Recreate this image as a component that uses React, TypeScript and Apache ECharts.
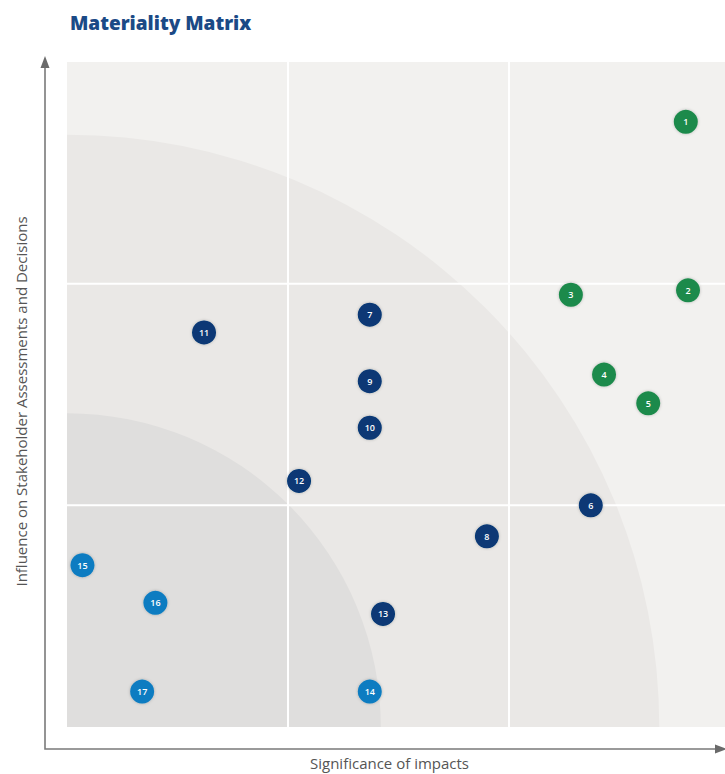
import React, { useEffect, useRef } from "react";
import * as echarts from "echarts";

const greenIds = ["1", "2", "3", "4", "5"];
const greenX = [2.8, 2.81, 2.28, 2.43, 2.63];
const greenY = [2.73, 1.97, 1.95, 1.59, 1.46];

const navyIds = ["6", "7", "8", "9", "10", "11", "12", "13"];
const navyX = [2.37, 1.37, 1.9, 1.37, 1.37, 0.62, 1.05, 1.43];
const navyY = [1.0, 1.86, 0.86, 1.56, 1.35, 1.78, 1.11, 0.51];

const blueIds = ["14", "15", "16", "17"];
const blueX = [1.37, 0.07, 0.4, 0.34];
const blueY = [0.16, 0.73, 0.56, 0.16];

const zoneRadii = [2.68, 1.42];
const zoneColors = ["#eae8e6", "#dfdedd"];
const dividers = [1, 2];
const axisMin = 0;
const axisMax = 3;

const build = (xs: number[], ys: number[], ids: string[]) =>
  xs.map((x, i) => ({ value: [x, ys[i]], name: ids[i] }));

export default function App() {
  const ref = useRef<HTMLDivElement>(null);
  useEffect(() => {
    document.body.style.margin = "0";
    const chart = echarts.init(ref.current!, undefined, { renderer: "svg" });
    const font = "'Open Sans', 'Noto Sans', sans-serif";
    const markerSeries = (name: string, color: string, data: any[]) => ({
      name,
      type: "scatter",
      symbol: "circle",
      symbolSize: 24,
      z: 5,
      itemStyle: {
        color,
        opacity: 1,
        shadowBlur: 3,
        shadowColor: "rgba(0,0,0,0.25)",
      },
      label: {
        show: true,
        position: "inside",
        formatter: (p: any) => p.name,
        color: "#ffffff",
        fontSize: 9,
        fontWeight: 600,
        fontFamily: font,
      },
      data,
    });
    chart.setOption({
      animation: false,
      title: {
        text: "Materiality Matrix",
        left: 70,
        top: 13,
        padding: 0,
        textStyle: {
          color: "#1b4a86",
          fontSize: 19,
          fontWeight: 800,
          fontFamily: font,
        },
      },
      grid: {
        left: 67,
        top: 62,
        width: 663,
        height: 665,
        show: true,
        backgroundColor: "#f2f1ef",
        borderWidth: 0,
        containLabel: false,
        outerBoundsMode: "none",
      },
      xAxis: {
        type: "value",
        min: axisMin,
        max: axisMax,
        interval: 1,
        axisLine: { show: false },
        axisTick: { show: false },
        axisLabel: { show: false },
        splitLine: { show: false },
        name: "Significance of impacts",
        nameLocation: "middle",
        nameGap: 28,
        nameTextStyle: {
          color: "#555555",
          fontSize: 15,
          fontFamily: font,
          padding: [0, 18, 0, 0],
        },
      },
      yAxis: {
        type: "value",
        min: axisMin,
        max: axisMax,
        interval: 1,
        axisLine: { show: false },
        axisTick: { show: false },
        axisLabel: { show: false },
        splitLine: { show: false },
        name: "Influence on Stakeholder Assessments and Decisions",
        nameLocation: "middle",
        nameGap: 39,
        nameTextStyle: {
          color: "#555555",
          fontSize: 15,
          fontFamily: font,
          padding: [0, 14, 0, 0],
        },
      },
      graphic: [
        {
          type: "polyline",
          shape: { points: [[45, 64], [45, 749], [719, 749]] },
          style: { stroke: "#7a7a7a", lineWidth: 1.6, fill: "none" },
          z: 10,
        },
        {
          type: "polygon",
          shape: { points: [[45, 56], [40.5, 68], [49.5, 68]] },
          style: { fill: "#6a6a6a" },
          z: 10,
        },
        {
          type: "polygon",
          shape: { points: [[727, 749], [715, 744.5], [715, 753.5]] },
          style: { fill: "#6a6a6a" },
          z: 10,
        },
      ],
      series: [
        {
          type: "custom",
          z: 1,
          silent: true,
          clip: true,
          data: [[0]],
          renderItem: (params: any, api: any) => {
            const origin = api.coord([axisMin, axisMin]);
            const topRight = api.coord([axisMax, axisMax]);
            const children: any[] = zoneRadii.map((r, i) => ({
              type: "sector",
              shape: {
                cx: origin[0],
                cy: origin[1],
                r: api.size([r, 0])[0],
                r0: 0,
                startAngle: -Math.PI / 2,
                endAngle: 0,
              },
              style: { fill: zoneColors[i] },
            }));
            dividers.forEach((d) => {
              const px = api.coord([d, axisMin]);
              const py = api.coord([axisMin, d]);
              children.push({
                type: "line",
                shape: { x1: px[0], y1: topRight[1], x2: px[0], y2: origin[1] },
                style: { stroke: "#ffffff", lineWidth: 2 },
              });
              children.push({
                type: "line",
                shape: { x1: origin[0], y1: py[1], x2: topRight[0], y2: py[1] },
                style: { stroke: "#ffffff", lineWidth: 2 },
              });
            });
            return { type: "group", children };
          },
        },
        markerSeries("material", "#1d8a4b", build(greenX, greenY, greenIds)),
        markerSeries("relevant", "#073774", build(navyX, navyY, navyIds)),
        markerSeries("minor", "#0a7cc1", build(blueX, blueY, blueIds)),
      ],
    });
    return () => chart.dispose();
  }, []);
  return <div ref={ref} style={{ width: 725, height: 774 }} />;
}
